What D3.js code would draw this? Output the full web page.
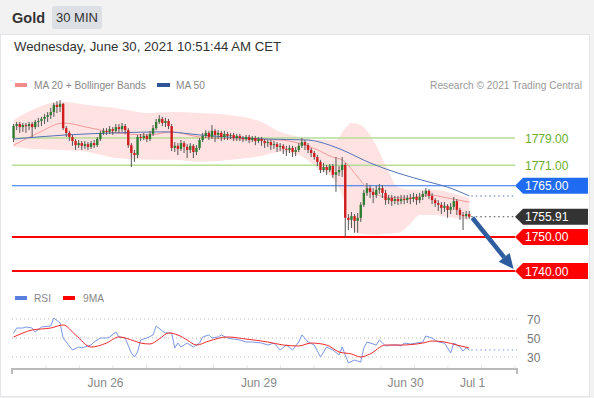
<!DOCTYPE html>
<html>
<head>
<meta charset="utf-8">
<script src="https://cdn.jsdelivr.net/npm/d3@7"></script>
<style>
  body { margin: 0; background: #f2f2f2; font-family: "Liberation Sans", Arial, sans-serif; }
</style>
</head>
<body>
<div id="chart"></div>
<script>
// 30 min candles, Gold
const opens = [
  1779.0,1782.5,1783.1,1782.2,1782.8,1782.5,1783.1,1782.2,1783.7,1784.0,
  1784.6,1785.2,1785.7,1786.6,1788.7,1788.1,1789.0,1781.9,1780.5,1779.3,
  1778.1,1776.9,1777.5,1776.7,1777.2,1776.4,1777.5,1776.9,1778.7,1780.5,
  1781.1,1780.8,1781.6,1781.1,1782.2,1781.6,1782.5,1781.3,1776.9,1774.6,
  1774.0,1779.3,1779.0,1779.6,1778.7,1780.2,1781.9,1783.7,1784.6,1783.4,
  1784.0,1782.5,1776.1,1776.7,1775.8,1777.5,1776.4,1775.5,1776.7,1774.9,
  1776.1,1778.4,1779.6,1780.5,1779.3,1781.1,1779.9,1780.5,1779.3,1780.2,
  1779.6,1779.9,1779.0,1779.6,1779.0,1778.7,1779.3,1778.4,1779.0,1778.1,
  1778.7,1778.1,1777.5,1777.8,1776.9,1777.2,1776.4,1776.7,1775.8,1775.5,
  1776.1,1774.9,1775.5,1776.7,1777.8,1776.9,1775.5,1774.6,1773.4,1772.0,
  1769.6,1770.5,1769.6,1770.8,1768.2,1769.0,1769.6,1771.1,1755.6,1755.0,
  1756.1,1754.7,1755.6,1759.4,1762.9,1764.3,1763.2,1762.3,1763.8,1764.3,
  1762.9,1760.8,1761.4,1760.5,1761.1,1760.5,1761.1,1760.8,1761.4,1761.1,
  1761.7,1760.8,1761.7,1762.6,1763.5,1762.0,1760.8,1759.9,1759.4,1758.5,
  1759.1,1757.9,1758.8,1760.5,1757.9,1756.4,1756.1,1756.7
];
const highs = [
  1783.1,1783.7,1783.7,1783.4,1783.4,1783.7,1783.7,1784.3,1784.9,1785.2,
  1786.0,1786.6,1787.8,1789.3,1789.8,1790.1,1789.3,1782.5,1781.1,1779.9,
  1778.7,1778.4,1778.1,1778.1,1777.8,1778.1,1778.4,1779.3,1781.1,1781.9,
  1781.9,1782.5,1782.2,1783.1,1783.1,1783.4,1783.1,1781.9,1777.5,1775.5,
  1779.9,1780.2,1780.5,1780.2,1781.1,1782.8,1784.6,1785.7,1785.2,1784.9,
  1784.6,1783.1,1777.8,1777.5,1778.4,1778.1,1777.2,1777.5,1777.2,1776.9,
  1779.0,1780.5,1781.3,1781.1,1782.8,1781.6,1781.3,1781.1,1781.1,1780.8,
  1780.5,1780.5,1780.2,1780.2,1779.6,1779.9,1779.9,1779.6,1779.6,1779.3,
  1779.3,1778.7,1778.4,1778.4,1778.1,1777.8,1777.5,1777.2,1776.7,1776.9,
  1776.7,1776.4,1777.5,1779.0,1778.4,1777.5,1776.1,1775.2,1774.0,1772.6,
  1771.7,1771.1,1771.4,1771.4,1773.4,1770.8,1773.4,1771.7,1756.7,1757.3,
  1756.7,1757.0,1760.2,1763.8,1765.8,1765.2,1764.3,1765.0,1765.5,1765.2,
  1763.8,1762.3,1762.3,1762.0,1762.0,1762.3,1762.3,1762.3,1762.6,1762.9,
  1762.6,1762.9,1763.5,1764.3,1764.0,1762.9,1761.4,1760.8,1760.2,1760.2,
  1759.6,1759.9,1761.7,1761.1,1758.5,1757.3,1757.6,1757.6
];
const lows = [
  1777.8,1781.3,1780.5,1780.8,1780.5,1781.3,1779.3,1781.6,1782.2,1782.5,
  1783.1,1783.7,1784.6,1785.2,1786.3,1786.6,1781.3,1779.3,1778.1,1776.7,
  1775.5,1776.1,1775.5,1775.8,1775.5,1775.8,1776.1,1776.4,1778.1,1779.9,
  1779.9,1780.2,1779.9,1780.5,1780.5,1780.8,1780.2,1776.1,1770.5,1772.0,
  1773.1,1778.1,1778.4,1777.8,1778.1,1779.6,1781.3,1783.1,1782.5,1782.2,
  1781.6,1775.2,1774.9,1774.0,1775.2,1774.6,1773.1,1774.6,1773.1,1774.0,
  1775.5,1777.8,1779.0,1778.4,1778.7,1777.8,1778.7,1778.1,1778.4,1778.4,
  1778.7,1778.1,1778.1,1778.1,1777.8,1778.1,1777.5,1777.8,1776.9,1777.5,
  1776.7,1776.1,1776.4,1775.5,1775.8,1774.9,1775.2,1774.3,1773.7,1774.6,
  1773.4,1773.7,1774.9,1776.1,1775.5,1774.6,1773.4,1772.6,1770.8,1768.7,
  1769.0,1768.2,1769.0,1767.3,1763.2,1767.9,1767.6,1750.0,1752.0,1752.6,
  1751.2,1751.2,1754.4,1758.8,1762.0,1761.4,1759.9,1761.4,1762.6,1761.4,
  1759.4,1759.6,1759.1,1759.6,1759.4,1759.6,1759.6,1759.9,1759.6,1760.2,
  1759.4,1759.9,1760.8,1761.7,1761.1,1759.6,1758.8,1757.6,1756.7,1757.3,
  1755.6,1756.7,1757.9,1756.4,1755.0,1752.0,1755.3,1755.3
];
const closes = [
  1782.5,1783.1,1782.2,1782.8,1782.5,1783.1,1782.2,1783.7,1784.0,1784.6,
  1785.2,1785.7,1786.6,1788.7,1788.1,1789.0,1781.9,1780.5,1779.3,1778.1,
  1776.9,1777.5,1776.7,1777.2,1776.4,1777.5,1776.9,1778.7,1780.5,1781.1,
  1780.8,1781.6,1781.1,1782.2,1781.6,1782.5,1781.3,1776.9,1774.6,1774.0,
  1779.3,1779.0,1779.6,1778.7,1780.2,1781.9,1783.7,1784.6,1783.4,1784.0,
  1782.5,1776.1,1776.7,1775.8,1777.5,1776.4,1775.5,1776.7,1774.9,1776.1,
  1778.4,1779.6,1780.5,1779.3,1781.1,1779.9,1780.5,1779.3,1780.2,1779.6,
  1779.9,1779.0,1779.6,1779.0,1778.7,1779.3,1778.4,1779.0,1778.1,1778.7,
  1778.1,1777.5,1777.8,1776.9,1777.2,1776.4,1776.7,1775.8,1775.5,1776.1,
  1774.9,1775.5,1776.7,1777.8,1776.9,1775.5,1774.6,1773.4,1772.0,1769.6,
  1770.5,1769.6,1770.8,1768.2,1769.0,1769.6,1771.1,1755.6,1755.0,1756.1,
  1754.7,1755.6,1759.4,1762.9,1764.3,1763.2,1762.3,1763.8,1764.3,1762.9,
  1760.8,1761.4,1760.5,1761.1,1760.5,1761.1,1760.8,1761.4,1761.1,1761.7,
  1760.8,1761.7,1762.6,1763.5,1762.0,1760.8,1759.9,1759.4,1758.5,1759.1,
  1757.9,1758.8,1760.5,1757.9,1756.4,1756.1,1756.7,1755.91
];

// Bollinger bands (20) read at candle indices
const bandIdx   = [0,6,15,24,33,44,51,60,70,80,86,92,98,104,107,109,112,116,120,124,128,131,136,140,147];
const bandUpper = [1784.3,1787.2,1789.6,1788.7,1787.8,1786.3,1786.6,1786.3,1785.7,1783.7,1780.8,1779.3,1778.4,1778.4,1781.9,1783.4,1782.8,1778.4,1771.1,1764.6,1763.8,1763.8,1763.8,1763.2,1761.4];
const bandLower = [1776.4,1775.8,1775.5,1774.9,1773.1,1772.6,1772.6,1772.0,1772.6,1773.7,1774.9,1774.0,1770.2,1766.1,1759.4,1752.6,1750.9,1750.6,1750.9,1751.2,1753.8,1756.4,1756.4,1755.8,1755.0];

const ma20Idx = [0,8,16,25,33,44,51,60,73,86,92,98,103,106,111,114,120,127,134,140,147];
const ma20    = [1776.9,1780.5,1783.4,1781.9,1780.5,1779.9,1780.8,1779.3,1778.7,1778.4,1777.5,1775.5,1773.4,1772.6,1767.6,1764.3,1761.7,1761.4,1762.3,1761.4,1760.2];

const ma50Idx = [0,17,33,49,60,81,95,102,106,115,124,134,140,147];
const ma50    = [1778.7,1779.9,1780.5,1780.8,1779.9,1778.7,1778.4,1776.9,1775.5,1771.7,1768.7,1766.1,1764.6,1762.0];

// RSI panel
const rsiIdx = [0,1,3,4,6,7,9,12,13,15,16,17,19,21,22,25,26,28,30,31,33,34,36,38,39,40,41,43,45,46,48,49,51,52,53,54,56,58,60,61,63,64,66,67,69,71,73,75,77,80,82,84,86,88,90,92,93,95,97,99,101,103,105,106,108,110,112,113,114,117,118,120,122,124,125,126,128,130,132,133,135,137,139,141,142,144,145,146,147];
const rsi    = [55,60.5,60.5,61.6,60.5,56.3,61.6,62.6,71,65.8,50,45.8,37.4,40.5,39.5,42.6,45.8,50,50,51.1,56.3,51.1,50,34.2,30,35.3,47.9,50,53.2,62.6,57.4,55.3,55.3,39.5,44.7,40.5,44.7,40.5,44.7,51.1,53.2,50,51.1,53.2,50,48.9,47.9,45.8,45.8,44.7,42.6,44.7,37.4,42.6,37.4,45.8,53.2,45.8,42.6,30,40.5,37.4,32.1,40.5,23.7,26.8,24.7,39.5,45.8,42.6,47.9,41.6,42.6,42.6,41.6,44.7,43.7,44.7,45.8,52.1,50,45.8,44.7,34.2,44.7,40.5,36.3,39.5,37.4];
const rsiMaIdx = [0,6,12,16,20,25,30,34,39,41,44,47,50,53,56,59,63,69,75,82,87,92,96,101,105,109,112,115,120,125,132,135,139,143,147];
const rsiMa    = [51,58.4,60.5,63.7,53.2,40.5,44.7,51.1,46.8,44.7,43.7,49,55.3,53.2,47.9,42.6,46.8,51.1,48.9,45.8,42.6,41.6,44.7,42.6,35.3,33.2,30,33.2,42.6,42.6,44.7,46.8,45.8,42.6,39.5];
const rsiLevels = [70, 50, 30];

// key levels
const levelPrices = [1779, 1771, 1765, 1750, 1740];
const levelTypes  = ['resistance', 'resistance', 'pivot', 'support', 'support'];
const lastPrice = 1755.91;
const targetPrice = 1740;

const dayTickIdx = [29.5, 79, 126.3, 147.9];
const dayTickLabels = ['Jun 26', 'Jun 29', 'Jun 30', 'Jul 1'];

const width = 594, height = 398;
const plot = { left: 12, right: 517, labelLeft: 515, labelRight: 588 };

const svg = d3.select('#chart').append('svg')
  .attr('width', width).attr('height', height)
  .style('display', 'block');

// header + card
svg.append('rect').attr('x', 0).attr('y', 0).attr('width', width).attr('height', height).attr('fill', '#f2f2f2');
svg.append('rect').attr('x', 0.5).attr('y', 34.5).attr('width', 589).attr('height', 362)
  .attr('fill', '#fff').attr('stroke', '#e2e4e8');
svg.append('text').attr('x', 12).attr('y', 23).attr('font-size', 14.5).attr('font-weight', 'bold')
  .attr('fill', '#333').text('Gold');
svg.append('rect').attr('x', 52).attr('y', 6).attr('width', 50).attr('height', 23).attr('rx', 2).attr('fill', '#dcdfe4');
svg.append('text').attr('x', 77).attr('y', 22).attr('text-anchor', 'middle').attr('font-size', 13)
  .attr('fill', '#333').text('30 MIN');
svg.append('text').attr('x', 14).attr('y', 51).attr('font-size', 13.2).attr('fill', '#333')
  .text('Wednesday, June 30, 2021 10:51:44 AM CET');

// legend
const legend = svg.append('g').attr('font-size', 10.2).attr('fill', '#888');
legend.append('rect').attr('x', 15).attr('y', 83).attr('width', 12).attr('height', 4).attr('fill', '#f28b8b');
legend.append('text').attr('x', 34).attr('y', 89).text('MA 20 + Bollinger Bands');
legend.append('rect').attr('x', 157).attr('y', 83).attr('width', 13).attr('height', 4).attr('fill', '#2f5597');
legend.append('text').attr('x', 176).attr('y', 89).text('MA 50');
legend.append('text').attr('x', 582).attr('y', 89).attr('text-anchor', 'end').attr('fill', '#999')
  .text('Research \u00a9 2021 Trading Central');

// scales
const x = d3.scaleLinear().domain([-0.5, 162.4]).range([plot.left, plot.right]);
const y = d3.scaleLinear().domain([1740, 1779]).range([271, 138]);
const yRsi = d3.scaleLinear().domain([30, 70]).range([357, 319]);

// bollinger band
const band = bandIdx.map((d, i) => ({ i: d, hi: bandUpper[i], lo: bandLower[i] }));
svg.append('path')
  .attr('d', d3.area().x(d => x(d.i)).y0(d => y(d.lo)).y1(d => y(d.hi)).curve(d3.curveMonotoneX)(band))
  .attr('fill', '#ffe3e3');

// level lines
const levelStyle = {
  resistance: { line: '#b7dc94', width: 1.5, text: '#6aae2c', box: null },
  pivot:      { line: '#2d6ff0', width: 1.2, text: '#fff', box: '#1f6cf2' },
  support:    { line: '#ff0000', width: 2,   text: '#fff', box: '#ff0000' }
};
levelPrices.forEach((p, i) => {
  const s = levelStyle[levelTypes[i]];
  svg.append('line').attr('x1', plot.left).attr('x2', plot.labelLeft)
    .attr('y1', y(p)).attr('y2', y(p)).attr('stroke', s.line).attr('stroke-width', s.width);
});

// moving averages
const lineGen = d3.line().x(d => x(d[0])).y(d => y(d[1])).curve(d3.curveMonotoneX);
svg.append('path').attr('d', lineGen(ma20Idx.map((d, i) => [d, ma20[i]])))
  .attr('fill', 'none').attr('stroke', '#f59a9a').attr('stroke-width', 1);
svg.append('path').attr('d', lineGen(ma50Idx.map((d, i) => [d, ma50[i]])))
  .attr('fill', 'none').attr('stroke', '#5272b8').attr('stroke-width', 1);

// candles
const candles = closes.map((c, i) => ({ i, o: opens[i], h: highs[i], l: lows[i], c }));
const cg = svg.append('g');
cg.selectAll('line').data(candles).enter().append('line')
  .attr('x1', d => x(d.i)).attr('x2', d => x(d.i))
  .attr('y1', d => y(d.h)).attr('y2', d => y(d.l))
  .attr('stroke', '#555').attr('stroke-width', 1);
cg.selectAll('rect').data(candles).enter().append('rect')
  .attr('x', d => x(d.i) - 1.2).attr('width', 2.4)
  .attr('y', d => y(Math.max(d.o, d.c)))
  .attr('height', d => Math.max(1, Math.abs(y(d.o) - y(d.c))))
  .attr('fill', d => d.c >= d.o ? '#2f7d32' : '#d01c1c');

// dotted continuations
const lastIdx = closes.length - 1;
svg.append('line').attr('x1', x(lastIdx) + 2).attr('x2', plot.labelLeft)
  .attr('y1', y(ma50[ma50.length - 1])).attr('y2', y(ma50[ma50.length - 1]))
  .attr('stroke', '#5272b8').attr('stroke-dasharray', '1.5,3');
svg.append('line').attr('x1', x(lastIdx) + 2).attr('x2', plot.labelLeft)
  .attr('y1', y(lastPrice)).attr('y2', y(lastPrice))
  .attr('stroke', '#444').attr('stroke-dasharray', '1.5,3');

// forecast arrow
const ax0 = x(lastIdx + 1), ay0 = y(lastPrice) + 1;
const ax1 = x(161.3), ay1 = y(targetPrice) - 2;
const ang = Math.atan2(ay1 - ay0, ax1 - ax0);
const headLen = 15, headW = 7;
const bx = ax1 - headLen * Math.cos(ang), by = ay1 - headLen * Math.sin(ang);
svg.append('line').attr('x1', ax0).attr('y1', ay0).attr('x2', bx).attr('y2', by)
  .attr('stroke', '#2e5d9f').attr('stroke-width', 4.5);
svg.append('path')
  .attr('d', `M${ax1},${ay1}L${bx + headW * Math.sin(ang)},${by - headW * Math.cos(ang)}L${bx - headW * Math.sin(ang)},${by + headW * Math.cos(ang)}Z`)
  .attr('fill', '#2e5d9f');

// right labels
function priceTag(p, boxColor, textColor) {
  const yy = y(p);
  if (boxColor) {
    svg.append('path')
      .attr('d', `M${plot.labelLeft},${yy}L${plot.labelLeft + 8},${yy - 8}L${plot.labelRight},${yy - 8}L${plot.labelRight},${yy + 8}L${plot.labelLeft + 8},${yy + 8}Z`)
      .attr('fill', boxColor);
  }
  svg.append('text').attr('x', 525).attr('y', yy + 4.5).attr('font-size', 12)
    .attr('fill', textColor).text(p.toFixed(2));
}
levelPrices.forEach((p, i) => {
  const s = levelStyle[levelTypes[i]];
  priceTag(p, s.box, s.text);
});
priceTag(lastPrice, '#333', '#fff');

// RSI legend
const rl = svg.append('g').attr('font-size', 10.2).attr('fill', '#888');
rl.append('rect').attr('x', 15).attr('y', 296).attr('width', 12).attr('height', 4).attr('fill', '#5b7fe0');
rl.append('text').attr('x', 34).attr('y', 302).text('RSI');
rl.append('rect').attr('x', 63).attr('y', 296).attr('width', 12).attr('height', 4).attr('fill', '#ff0000');
rl.append('text').attr('x', 83).attr('y', 302).text('9MA');

// RSI levels
rsiLevels.forEach(v => {
  svg.append('line').attr('x1', plot.left).attr('x2', plot.right)
    .attr('y1', yRsi(v)).attr('y2', yRsi(v))
    .attr('stroke', '#bbb').attr('stroke-dasharray', '1,3');
  svg.append('text').attr('x', 527).attr('y', yRsi(v) + 4.5).attr('font-size', 12)
    .attr('fill', '#777').text(v);
});

const rsiLine = d3.line().x(d => x(d[0])).y(d => yRsi(d[1]));
svg.append('path').attr('d', rsiLine(rsiIdx.map((d, i) => [d, rsi[i]])))
  .attr('fill', 'none').attr('stroke', '#7b98e8').attr('stroke-width', 1);
svg.append('path').attr('d', rsiLine.curve(d3.curveMonotoneX)(rsiMaIdx.map((d, i) => [d, rsiMa[i]])))
  .attr('fill', 'none').attr('stroke', '#f02a2a').attr('stroke-width', 1);
svg.append('line').attr('x1', x(lastIdx) + 2).attr('x2', plot.right)
  .attr('y1', yRsi(rsi[rsi.length - 1])).attr('y2', yRsi(rsi[rsi.length - 1]))
  .attr('stroke', '#7b98e8').attr('stroke-dasharray', '1.5,3');

// x axis
const axisY = 369;
svg.append('g').attr('stroke', '#e6e6e6').selectAll('line')
  .data(d3.range(10.5, 162, 10.8)).enter().append('line')
  .attr('x1', d => x(d)).attr('x2', d => x(d)).attr('y1', axisY - 4).attr('y2', axisY);
svg.append('path')
  .attr('d', `M${plot.left},${axisY + 5}V${axisY}H${plot.right}V${axisY + 5}`)
  .attr('fill', 'none').attr('stroke', '#bbb').attr('stroke-width', 2);
const xAxis = svg.append('g').attr('transform', `translate(0, ${axisY})`)
  .call(d3.axisBottom(x).tickValues(dayTickIdx).tickFormat((d, i) => dayTickLabels[i]).tickSize(0).tickPadding(9));
xAxis.select('.domain').remove();
xAxis.selectAll('text').attr('fill', '#888').attr('font-size', 12)
  .attr('font-family', '"Liberation Sans", Arial, sans-serif');
</script>
</body>
</html>
